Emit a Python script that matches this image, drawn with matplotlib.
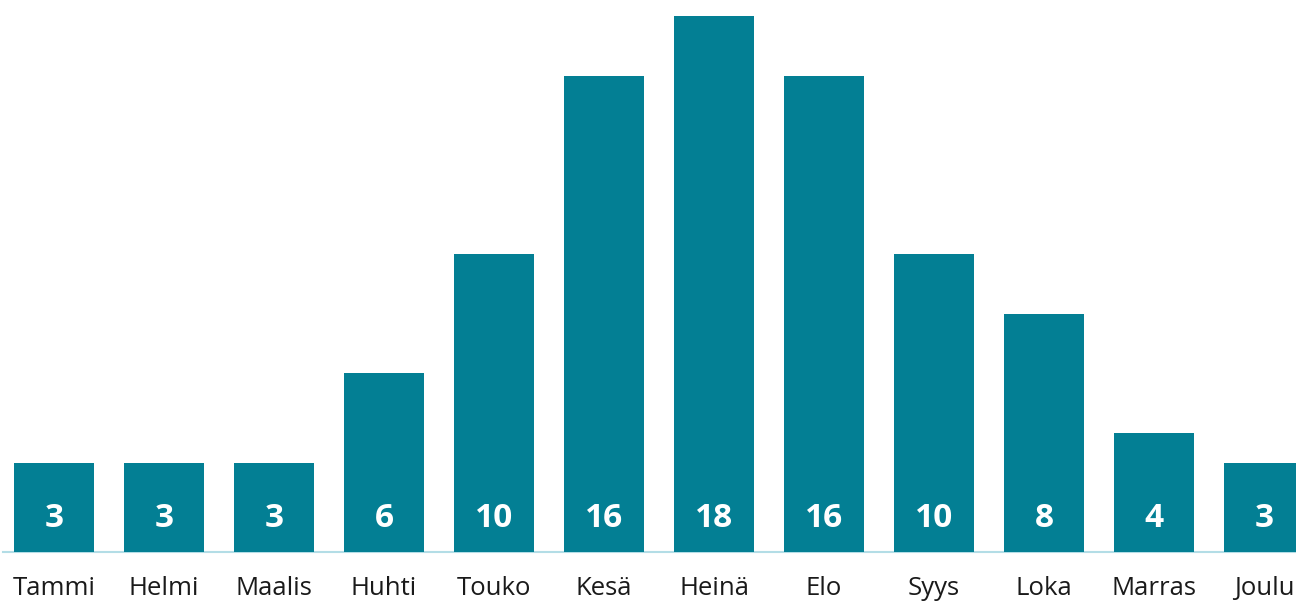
import matplotlib.pyplot as plt
import numpy as np

months = ['Tammi', 'Helmi', 'Maalis', 'Huhti', 'Touko', 'Kesä',
          'Heinä', 'Elo', 'Syys', 'Loka', 'Marras', 'Joulu']
values = [3, 3, 3, 6, 10, 16, 18, 16, 10, 8, 4, 3]

plt.rcParams['font.family'] = ['Open Sans', 'DejaVu Sans']

fig = plt.figure(figsize=(12.96, 6.05), dpi=100)
# axes spans full width; baseline at 53 px from bottom
ax = fig.add_axes([0, 53 / 605, 1, 552 / 605])

x = np.arange(len(months))
ax.bar(x, values, width=80 / 110, color='#037f94', zorder=2)
for xi, v in zip(x, values):
    ax.text(xi, 1.12, str(v), ha='center', va='center', color='white',
            fontsize=24, fontweight='bold', zorder=3)

ax.set_xlim(-54 / 110, (1296 - 54) / 110)
ax.set_ylim(0, 552 / (536 / 18))
ax.axhline(0, xmin=3 / 1296, xmax=1, color='#b3dde6', lw=1.5, zorder=1, clip_on=False)

ax.set_xticks(x)
ax.set_xticklabels(months, fontsize=18.5, color='#1a1a1a')
ax.tick_params(axis='x', length=0, pad=17)
ax.set_yticks([])
for s in ax.spines.values():
    s.set_visible(False)

fig.savefig('out.png', dpi=100)
